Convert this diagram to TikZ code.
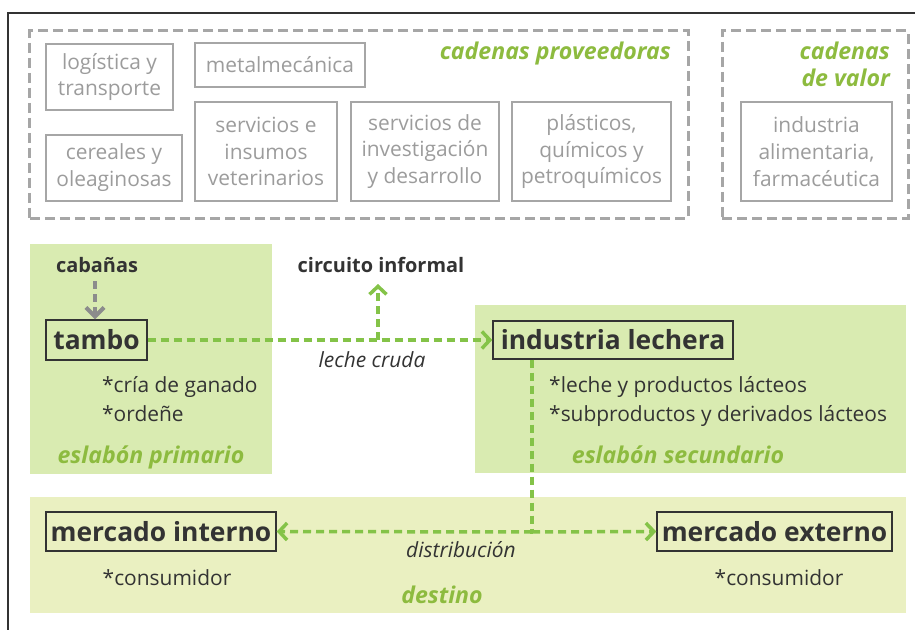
\documentclass[tikz,border=0pt]{standalone}
\usepackage{fontspec}
\setmainfont{Open Sans}
\usetikzlibrary{arrows.meta}
\definecolor{grayline}{HTML}{A6A6A6}
\definecolor{graytext}{HTML}{9C9C9C}
\definecolor{grayarrow}{HTML}{8C8C8C}
\definecolor{greentxt}{HTML}{8DBB3F}
\definecolor{greenline}{HTML}{84C348}
\definecolor{regionA}{HTML}{D9EBB1}
\definecolor{regionB}{HTML}{EAF0C1}
\definecolor{darktext}{HTML}{333333}
\tikzset{
  graybox/.style={draw=grayline, line width=1.5bp, text=graytext, inner sep=0pt, align=center,
    font=\fontsize{21}{27}\selectfont},
  groupbox/.style={draw=grayline, line width=3bp, dash pattern=on 10bp off 5bp, inner sep=0pt},
  keybox/.style={draw=darktext, line width=1.4bp, text=darktext, inner sep=0pt,
    font=\fontsize{26.5}{30}\selectfont\bfseries},
  bodytxt/.style={text=darktext, inner sep=0pt, font=\fontsize{21}{28}\selectfont},
  greentitle/.style={text=greentxt, inner sep=0pt, font=\fontsize{23.2}{27}\selectfont\bfseries\itshape},
  italtxt/.style={text=darktext, inner sep=0pt, font=\fontsize{21}{24}\selectfont\itshape},
  boldtxt/.style={text=darktext, inner sep=0pt, font=\fontsize{20}{24}\selectfont\bfseries},
  gline/.style={draw=greenline, line width=3.5bp, dash pattern=on 8bp off 5bp},
  gtip/.style={-{Straight Barb[length=8bp,width=17bp,line width=3.5bp]}},
  grayarr/.style={draw=grayarrow, line width=3.5bp, dash pattern=on 8bp off 5bp,
    -{Straight Barb[length=9bp,width=18bp,line width=4bp]}},
  region/.style={inner sep=0pt, draw=none}
}
\begin{document}
\begin{tikzpicture}[x=1bp,y=-1bp]
\useasboundingbox (0,0) rectangle (915,630);
\fill[white] (0,0) rectangle (915,630);
% outer frame (only left and top visible)
\draw[darktext, line width=1.5bp] (8,640) -- (8,13) -- (925,13);

% group boxes
\node[groupbox, minimum width=658bp, minimum height=187bp] (prov) at (359,124.5) {};
\node[groupbox, minimum width=186bp, minimum height=187bp] (valor) at (815,124.5) {};
\node[greentitle, anchor=base east] (provt) at (671,60) {cadenas proveedoras};
\node[greentitle, anchor=base east, align=right] (valt1) at (890,60) {cadenas};
\node[greentitle, anchor=base east, align=right] (valt2) at (890,87) {de valor};

% supplier boxes
\node[graybox, minimum width=127bp, minimum height=66bp] (log) at (109.5,77) {logística y\\transporte};
\node[graybox, minimum width=170bp, minimum height=44bp] (metal) at (280,65) {metalmecánica};
\node[graybox, minimum width=136bp, minimum height=66bp] (cer) at (114,168) {cereales y\\oleaginosas};
\node[graybox, minimum width=142bp, minimum height=99bp] (vet) at (266,151.5) {servicios e\\insumos\\veterinarios};
\node[graybox, minimum width=148bp, minimum height=99bp] (inv) at (425,151.5) {servicios de\\investigación\\y desarrollo};
\node[graybox, minimum width=159bp, minimum height=99bp] (plas) at (591.5,151.5) {plásticos,\\químicos y\\petroquímicos};
\node[graybox, minimum width=151bp, minimum height=99bp] (alim) at (816.5,151.5) {industria\\alimentaria,\\farmacéutica};

% regions
\node[region, fill=regionA, minimum width=242bp, minimum height=230bp] (prim) at (151,359) {};
\node[region, fill=regionA, minimum width=431bp, minimum height=168bp] (sec) at (690.5,389) {};
\node[region, fill=regionB, minimum width=876bp, minimum height=116bp] (dest) at (468,555) {};

% primary link
\node[boldtxt, anchor=base] (cab) at (97,273) {cabañas};
\node[keybox, minimum width=101bp, minimum height=40bp] (tambo) at (96.5,340) {tambo};
\node[bodytxt, anchor=base west] (cria) at (102,392) {*cría de ganado};
\node[bodytxt, anchor=base west] (orde) at (102,421) {*ordeñe};
\node[greentitle, anchor=base] (primt) at (151,463) {eslabón primario};

% informal circuit
\node[boldtxt, anchor=base] (circ) at (381,273) {circuito informal};
\node[italtxt, anchor=base] (leche) at (372,367) {leche cruda};

% secondary link
\node[keybox, minimum width=240bp, minimum height=38bp] (ind) at (613,340) {industria lechera};
\node[bodytxt, anchor=base west] (lac1) at (549,392) {*leche y productos lácteos};
\node[bodytxt, anchor=base west] (lac2) at (549,421) {*subproductos y derivados lácteos};
\node[greentitle, anchor=base] (sect) at (678,463) {eslabón secundario};

% destination
\node[keybox, minimum width=230bp, minimum height=39bp] (mi) at (161,531.5) {mercado interno};
\node[keybox, minimum width=235bp, minimum height=39bp] (me) at (774.5,531.5) {mercado externo};
\node[bodytxt, anchor=base] (c1) at (167,585) {*consumidor};
\node[bodytxt, anchor=base] (c2) at (779,585) {*consumidor};
\node[italtxt, anchor=base] (dist) at (461,557) {distribución};
\node[greentitle, anchor=base] (destt) at (442,603) {destino};

% connectors
\draw[grayarr] (tambo.north -| 95,0) ++(0,-38) -- (tambo.north -| 95,0);
\coordinate (br) at (378,340);
\draw[gline, gtip] (tambo.east) -- (ind.west);
\draw[gline, gtip] (br) -- (378,284);
\coordinate (jct) at (532,532);
\draw[gline] (jct |- ind.south) -- (jct);
\draw[gline, gtip] (jct) -- (mi.east);
\draw[gline, gtip] (jct) -- (me.west);
\end{tikzpicture}
\end{document}
